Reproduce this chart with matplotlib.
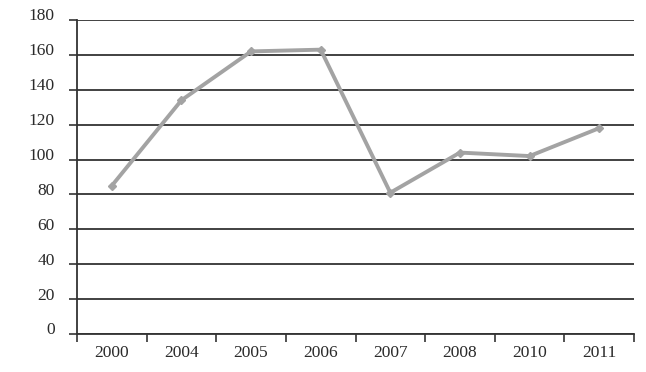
import matplotlib.pyplot as plt
import matplotlib.transforms as mtransforms

years = ['2000', '2004', '2005', '2006', '2007', '2008', '2010', '2011']
values = [85, 134, 162, 163, 81, 104, 102, 118]

plt.rcParams['font.family'] = ['Liberation Serif', 'DejaVu Serif']

fig = plt.figure(figsize=(6.46, 3.72), dpi=100)
ax = fig.add_axes([77 / 646, 1 - 334 / 372, (634 - 77) / 646, (334 - 20) / 372])

x = list(range(len(years)))
ax.plot(x, values, color='#a3a3a3', linewidth=2.8, marker='D', markersize=4.5,
        markerfacecolor='#a3a3a3', markeredgecolor='#a3a3a3', zorder=3)

ax.set_xlim(-0.5, len(years) - 0.5)
ax.set_ylim(0, 180)
ax.set_yticks(range(0, 181, 20))
ax.yaxis.grid(True, color='#333333', linewidth=1.3)
ax.set_axisbelow(True)

# category boundaries carry the ticks, labels sit in between
ax.set_xticks([i - 0.5 for i in range(len(years) + 1)])
ax.set_xticklabels([])
ax.set_xticks(x, minor=True)
ax.set_xticklabels(years, minor=True)
ax.tick_params(axis='x', which='minor', length=0, pad=8, labelsize=12.5)
ax.tick_params(axis='x', which='major', length=6, width=1.2, direction='out', colors='#333333')
ax.tick_params(axis='y', length=6, width=1.2, pad=10, labelsize=12.5, colors='#333333')

# y labels sit a little above their gridlines in the original
shift = mtransforms.ScaledTranslation(0, 4 / 72, fig.dpi_scale_trans)
for lbl in ax.get_yticklabels():
    lbl.set_transform(lbl.get_transform() + shift)
for lbl in ax.get_yticklabels() + ax.get_xticklabels(minor=True):
    lbl.set_color('#2a2a2a')

for side in ['top', 'right']:
    ax.spines[side].set_visible(False)
ax.spines['left'].set_color('#333333')
ax.spines['left'].set_linewidth(1.3)
ax.spines['bottom'].set_color('#333333')
ax.spines['bottom'].set_linewidth(1.3)

plt.savefig('out.png', dpi=100)
plt.close()
